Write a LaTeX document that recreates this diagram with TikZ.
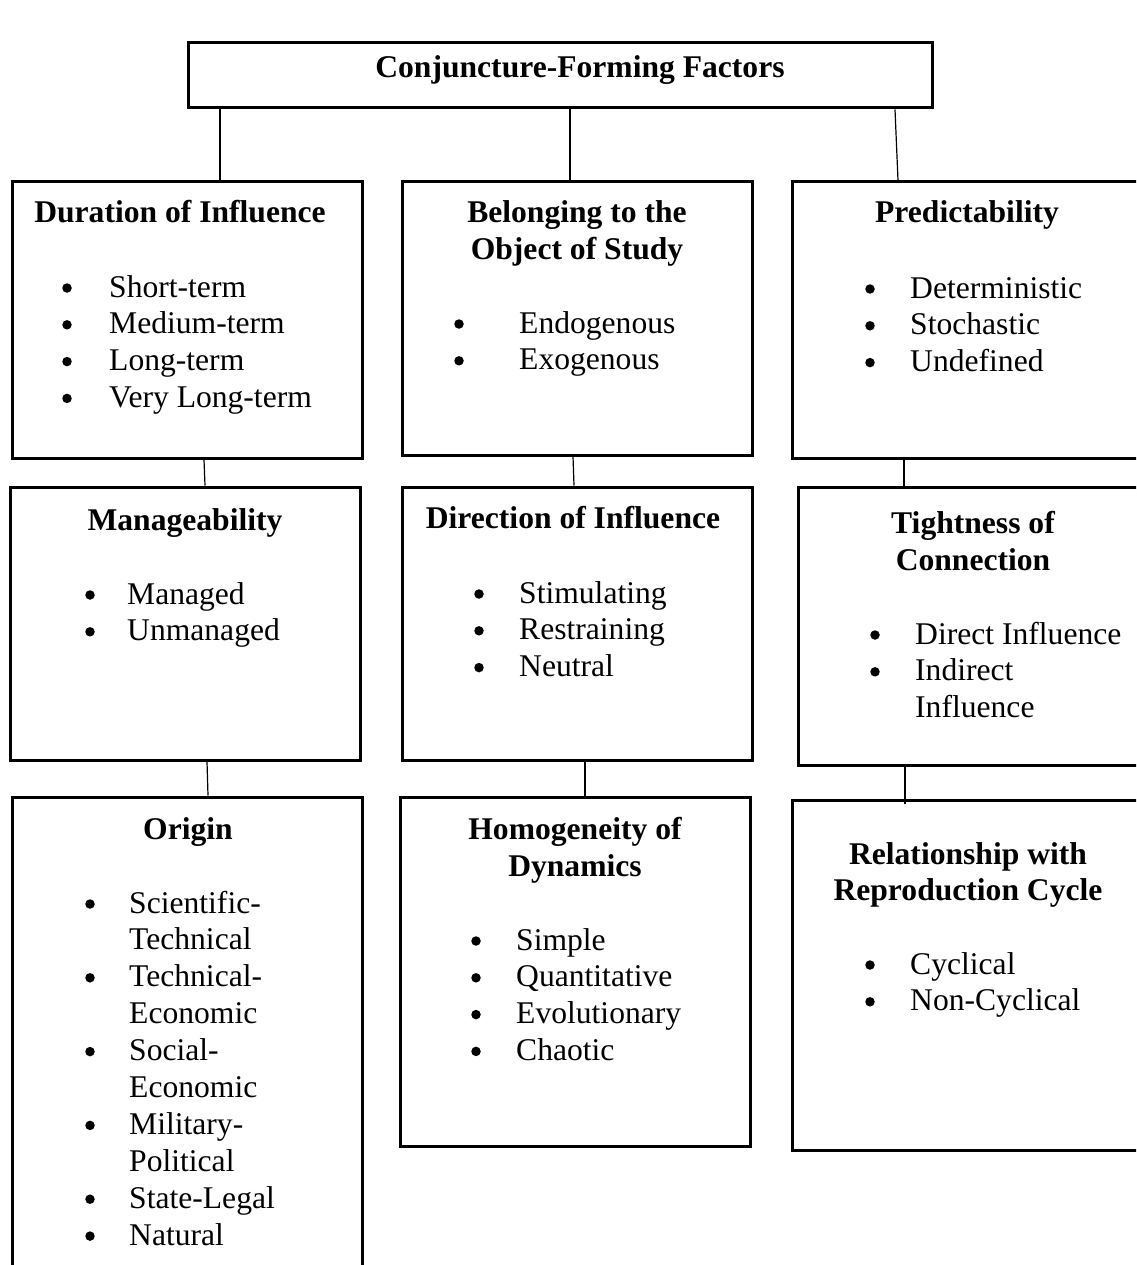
\documentclass[tikz,border=0pt]{standalone}
\usepackage{fontspec}
\setmainfont{Liberation Serif}
\begin{document}
\begin{tikzpicture}[x=1pt,y=-1pt,
  box/.style={draw,line width=3pt,minimum width=350pt,inner sep=0pt},
  link/.style={line width=1.2pt},
  head/.style={anchor=base,inner sep=0pt,font=\fontsize{31.6}{36.8}\selectfont\bfseries},
  item/.style={anchor=base west,inner sep=0pt,font=\fontsize{31.6}{36.8}\selectfont},
  dot/.style={circle,fill,inner sep=0pt,minimum size=9.5pt}]
\useasboundingbox (0,0) rectangle (1136,1265);
\fill[white] (0,0) rectangle (1136,1265);
\clip (0,0) rectangle (1136,1265);

% top box
\node[box,minimum width=744pt,minimum height=65pt] (top) at (560,75.5) {};
\node[head] (toptitle) at (580,78) {Conjuncture-Forming Factors};

% first row
\node[box,minimum height=276pt] (dur) at (187,320) {};
\node[box,minimum height=273pt] (obj) at (577,318.5) {};
\node[box,minimum height=276pt] (pred) at (967,320) {};

\node[head] (durtitle) at (180,223) {Duration of Influence};
\foreach \txt [count=\i from 0] in {Short-term,Medium-term,Long-term,Very Long-term} {
  \node[dot] (durdot\i) at (67,288+36.8*\i) {};
  \node[item] (duritem\i) at (109,297+36.8*\i) {\txt};
}

\node[head] (objtitle1) at (577,223) {Belonging to the};
\node[head] (objtitle2) at (577,259) {Object of Study};
\foreach \txt [count=\i from 0] in {Endogenous,Exogenous} {
  \node[dot] (objdot\i) at (459,324+36.8*\i) {};
  \node[item] (objitem\i) at (519,333+36.8*\i) {\txt};
}

\node[head] (predtitle) at (967,223) {Predictability};
\foreach \txt [count=\i from 0] in {Deterministic,Stochastic,Undefined} {
  \node[dot] (preddot\i) at (870,289+36.8*\i) {};
  \node[item] (preditem\i) at (910,298+36.8*\i) {\txt};
}

% second row
\node[box,minimum height=273pt] (man) at (185,623.5) {};
\node[box,minimum height=273pt] (dir) at (577,623.5) {};
\node[box,minimum height=278pt] (tight) at (973,626) {};

\node[head] (mantitle) at (185,530) {Manageability};
\foreach \txt [count=\i from 0] in {Managed,Unmanaged} {
  \node[dot] (mandot\i) at (90,595+36.8*\i) {};
  \node[item] (manitem\i) at (127,604+36.8*\i) {\txt};
}

\node[head] (dirtitle) at (573,528) {Direction of Influence};
\foreach \txt [count=\i from 0] in {Stimulating,Restraining,Neutral} {
  \node[dot] (dirdot\i) at (479,594+36.8*\i) {};
  \node[item] (diritem\i) at (519,603+36.8*\i) {\txt};
}

\node[head] (tighttitle1) at (973,533) {Tightness of};
\node[head] (tighttitle2) at (973,570) {Connection};
\foreach \b/\txt [count=\i from 0] in {1/Direct Influence,1/Indirect,0/Influence} {
  \ifnum\b=1 \node[dot] (tightdot\i) at (875,635+36.8*\i) {}; \fi
  \node[item] (tightitem\i) at (915,644+36.8*\i) {\txt};
}

% third row
\node[box,minimum height=488pt] (orig) at (187,1041) {};
\node[box,minimum height=349pt] (hom) at (575,971.5) {};
\node[box,minimum height=350pt] (rep) at (967,975) {};

\node[head] (origtitle) at (188,839) {Origin};
\foreach \b/\txt [count=\i from 0] in {1/Scientific-,0/Technical,1/Technical-,0/Economic,
    1/Social-,0/Economic,1/Military-,0/Political,1/State-Legal,1/Natural} {
  \ifnum\b=1 \node[dot] (origdot\i) at (90,904+36.9*\i) {}; \fi
  \node[item] (origitem\i) at (129,913+36.9*\i) {\txt};
}

\node[head] (homtitle1) at (575,839) {Homogeneity of};
\node[head] (homtitle2) at (575,876) {Dynamics};
\foreach \txt [count=\i from 0] in {Simple,Quantitative,Evolutionary,Chaotic} {
  \node[dot] (homdot\i) at (476,941+36.8*\i) {};
  \node[item] (homitem\i) at (516,950+36.8*\i) {\txt};
}

\node[head] (reptitle1) at (968,864) {Relationship with};
\node[head] (reptitle2) at (968,900) {Reproduction Cycle};
\foreach \txt [count=\i from 0] in {Cyclical,Non-Cyclical} {
  \node[dot] (repdot\i) at (870,965+36.8*\i) {};
  \node[item] (repitem\i) at (910,974+36.8*\i) {\txt};
}

% connectors
\draw[link] (top.south -| 220,0) -- (dur.north -| 220,0);
\draw[link] (top.south -| 570,0) -- (obj.north -| 570,0);
\draw[link] (top.south -| 895,0) -- (pred.north -| 898,0);
\draw[link] (dur.south -| 204,0) -- (man.north -| 205,0);
\draw[link] (obj.south -| 573,0) -- (dir.north -| 574,0);
\draw[link] (pred.south -| 904,0) -- (tight.north -| 904,0);
\draw[link] (man.south -| 207,0) -- (orig.north -| 208,0);
\draw[link] (dir.south -| 585,0) -- (hom.north -| 585,0);
\draw[link] (tight.south -| 905,0) -- ([yshift=-5pt]rep.north -| 905,0);
\end{tikzpicture}
\end{document}
